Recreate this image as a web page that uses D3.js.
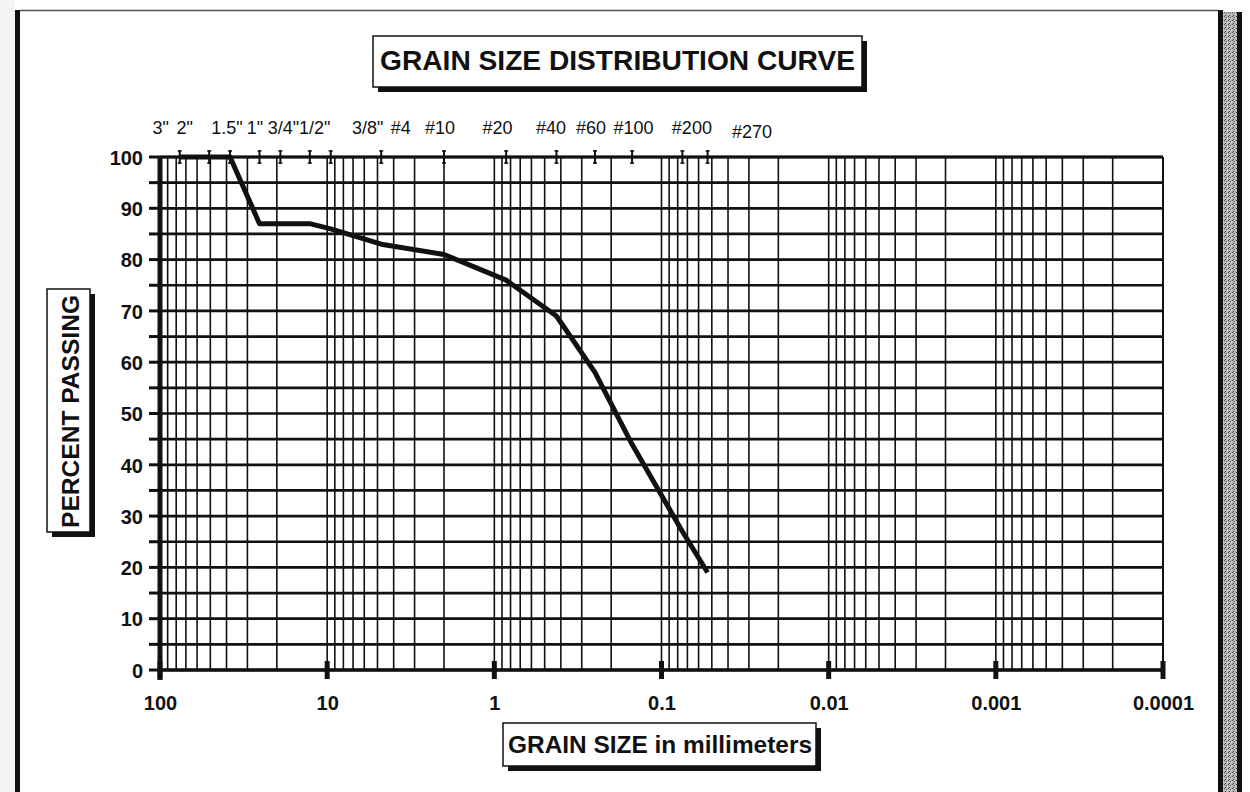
<!DOCTYPE html>
<html><head><meta charset="utf-8">
<script src="https://cdn.jsdelivr.net/npm/d3@7"></script>
<style>
html,body{margin:0;padding:0;background:#fff;}
svg{display:block;font-family:"Liberation Sans",Arial,sans-serif;}
</style>
</head><body>
<svg id="chart" width="1250" height="792"></svg>
<script>
// ---------- data ----------
const chartTitle = "GRAIN SIZE DISTRIBUTION CURVE";
const xAxisTitle = "GRAIN SIZE in millimeters";
const yAxisTitle = "PERCENT PASSING";
const sieveLabels = ['3"', '2"', '1.5"', '1"', '3/4"', '1/2"', '3/8"', '#4', '#10', '#20', '#40', '#60', '#100', '#200', '#270'];
const sieveSizesMm = [76.2, 50.8, 38.1, 25.4, 19.05, 12.7, 9.525, 4.75, 2.0, 0.85, 0.425, 0.25, 0.15, 0.075, 0.053];
const percentPassing = [100, 100, 100, 87, 87, 87, 86, 83, 81, 76, 69, 58, 44, 27, 19];
const xTickValues = [100, 10, 1, 0.1, 0.01, 0.001, 0.0001];
const xTickLabels = ["100", "10", "1", "0.1", "0.01", "0.001", "0.0001"];
const yTickValues = [0, 10, 20, 30, 40, 50, 60, 70, 80, 90, 100];

// ---------- layout ----------
const svg = d3.select("#chart");
const L = 160, R = 1163, T = 157, B = 670;
const x = d3.scaleLog().domain([100, 0.0001]).range([L, R]);
const y = d3.scaleLinear().domain([0, 100]).range([B, T]);
const ink = "#111";

// page frame
const defs = svg.append("defs");
const pat = defs.append("pattern").attr("id", "stip").attr("width", 4).attr("height", 4).attr("patternUnits", "userSpaceOnUse");
pat.append("rect").attr("width", 4).attr("height", 4).attr("fill", "#b4b4b4");
pat.append("rect").attr("x", 0).attr("y", 0).attr("width", 1).attr("height", 1).attr("fill", "#555");
pat.append("rect").attr("x", 2).attr("y", 1).attr("width", 1).attr("height", 1).attr("fill", "#666");
pat.append("rect").attr("x", 1).attr("y", 3).attr("width", 1).attr("height", 1).attr("fill", "#444");
pat.append("rect").attr("x", 3).attr("y", 2).attr("width", 1).attr("height", 1).attr("fill", "#e0e0e0");

svg.append("rect").attr("x", 0).attr("y", 0).attr("width", 15).attr("height", 792).attr("fill", "#f5f5f5");
svg.append("rect").attr("x", 15).attr("y", 10).attr("width", 5).attr("height", 782).attr("fill", ink);
svg.append("line").attr("x1", 20).attr("x2", 1218).attr("y1", 10.5).attr("y2", 10.5).attr("stroke", "#555").attr("stroke-width", 1.5);
svg.append("rect").attr("x", 1218).attr("y", 10).attr("width", 5).attr("height", 782).attr("fill", ink);
svg.append("rect").attr("x", 1223).attr("y", 12).attr("width", 14).attr("height", 780).attr("fill", "url(#stip)");
svg.append("rect").attr("x", 1237).attr("y", 12).attr("width", 5).attr("height", 780).attr("fill", ink);

// ---------- grid ----------
const g = svg.append("g");
// vertical log grid
g.selectAll("line.vg").data(x.ticks()).join("line")
  .attr("x1", d => x(d)).attr("x2", d => x(d))
  .attr("y1", T).attr("y2", B)
  .attr("stroke", ink).attr("stroke-width", 1.6);
// horizontal grid every 5
g.selectAll("line.hg").data(y.ticks(20)).join("line")
  .attr("x1", L).attr("x2", R)
  .attr("y1", d => y(d)).attr("y2", d => y(d))
  .attr("stroke", ink).attr("stroke-width", 2.7);
// left ticks every 5
g.selectAll("line.lt").data(y.ticks(20)).join("line")
  .attr("x1", L - 11).attr("x2", L)
  .attr("y1", d => y(d)).attr("y2", d => y(d))
  .attr("stroke", ink).attr("stroke-width", 3);
// frame
g.append("line").attr("x1", L).attr("x2", R).attr("y1", T).attr("y2", T).attr("stroke", ink).attr("stroke-width", 3);
g.append("line").attr("x1", L).attr("x2", R).attr("y1", B).attr("y2", B).attr("stroke", ink).attr("stroke-width", 3.5);
g.append("line").attr("x1", R).attr("x2", R).attr("y1", T).attr("y2", B).attr("stroke", ink).attr("stroke-width", 2);
g.append("line").attr("x1", L).attr("x2", L).attr("y1", T - 1).attr("y2", B + 10).attr("stroke", ink).attr("stroke-width", 5);
// decade ticks at bottom
g.selectAll("line.dt").data(xTickValues).join("line")
  .attr("x1", d => x(d)).attr("x2", d => x(d))
  .attr("y1", B - 9).attr("y2", B + 9)
  .attr("stroke", ink).attr("stroke-width", 5);

// ---------- axes labels ----------
const xAxis = d3.axisBottom(x).tickValues(xTickValues)
  .tickFormat((d, i) => xTickLabels[i]).tickSize(0).tickPadding(0);
const xa = svg.append("g").attr("transform", `translate(0,${B})`).call(xAxis);
xa.select(".domain").remove();
xa.selectAll("text").attr("y", 40).attr("dy", 0)
  .attr("font-size", 20).attr("font-weight", "bold").attr("fill", ink)
  .attr("font-family", "Liberation Sans, Arial, sans-serif");

const yAxis = d3.axisLeft(y).tickValues(yTickValues).tickSize(0).tickPadding(0);
const ya = svg.append("g").attr("transform", `translate(${L},0)`).call(yAxis);
ya.select(".domain").remove();
ya.selectAll("text").attr("x", -17).attr("dy", "0.36em")
  .attr("font-size", 20).attr("font-weight", "bold").attr("fill", ink)
  .attr("font-family", "Liberation Sans, Arial, sans-serif");

// ---------- sieve markers & labels ----------
const sieveLabelDx = [-19, -24.5, -3, -4.5, 3, 5, 37, 19.5, -4, -8.5, -5.5, -4, 1.5, 9.5, 44.5];
const sm = svg.append("g");
sieveSizesMm.forEach((d, i) => {
  const sx = x(d);
  sm.append("line").attr("x1", sx).attr("x2", sx).attr("y1", T - 7).attr("y2", T + 7).attr("stroke", ink).attr("stroke-width", 2);
  sm.append("line").attr("x1", sx - 2).attr("x2", sx + 2).attr("y1", T - 6).attr("y2", T - 6).attr("stroke", ink).attr("stroke-width", 1.5);
  sm.append("line").attr("x1", sx - 2).attr("x2", sx + 2).attr("y1", T + 6).attr("y2", T + 6).attr("stroke", ink).attr("stroke-width", 1.5);
  sm.append("text").attr("x", sx + sieveLabelDx[i]).attr("y", i === sieveLabels.length - 1 ? 138 : 134)
    .attr("text-anchor", "middle").attr("font-size", 18).attr("fill", ink)
    .text(sieveLabels[i]);
});

// ---------- curve ----------
const pts = sieveSizesMm.map((d, i) => [d, percentPassing[i]]);
svg.append("path").datum(pts)
  .attr("d", d3.line().x(d => x(d[0])).y(d => y(d[1])))
  .attr("fill", "none").attr("stroke", ink).attr("stroke-width", 5)
  .attr("stroke-linejoin", "round").attr("stroke-linecap", "butt");

// ---------- boxed titles ----------
function box(bx, by, bw, bh) {
  svg.append("rect").attr("x", bx + 5).attr("y", by + 5).attr("width", bw).attr("height", bh).attr("fill", ink);
  svg.append("rect").attr("x", bx).attr("y", by).attr("width", bw).attr("height", bh)
    .attr("fill", "#fff").attr("stroke", ink).attr("stroke-width", 1.5);
}
box(373, 36, 489, 51);
svg.append("text").attr("x", 380).attr("y", 70).attr("font-size", 28).attr("font-weight", "bold").attr("fill", ink)
  .attr("textLength", 475).attr("lengthAdjust", "spacingAndGlyphs").text(chartTitle);

box(503, 723, 313, 43);
svg.append("text").attr("x", 508).attr("y", 753).attr("font-size", 24).attr("font-weight", "bold").attr("fill", ink)
  .attr("textLength", 304).attr("lengthAdjust", "spacingAndGlyphs").text(xAxisTitle);

box(47, 289, 43, 243);
svg.append("text").attr("transform", "translate(79,528) rotate(-90)")
  .attr("font-size", 24).attr("font-weight", "bold").attr("fill", ink)
  .attr("textLength", 233).attr("lengthAdjust", "spacingAndGlyphs").text(yAxisTitle);
</script>
</body></html>
